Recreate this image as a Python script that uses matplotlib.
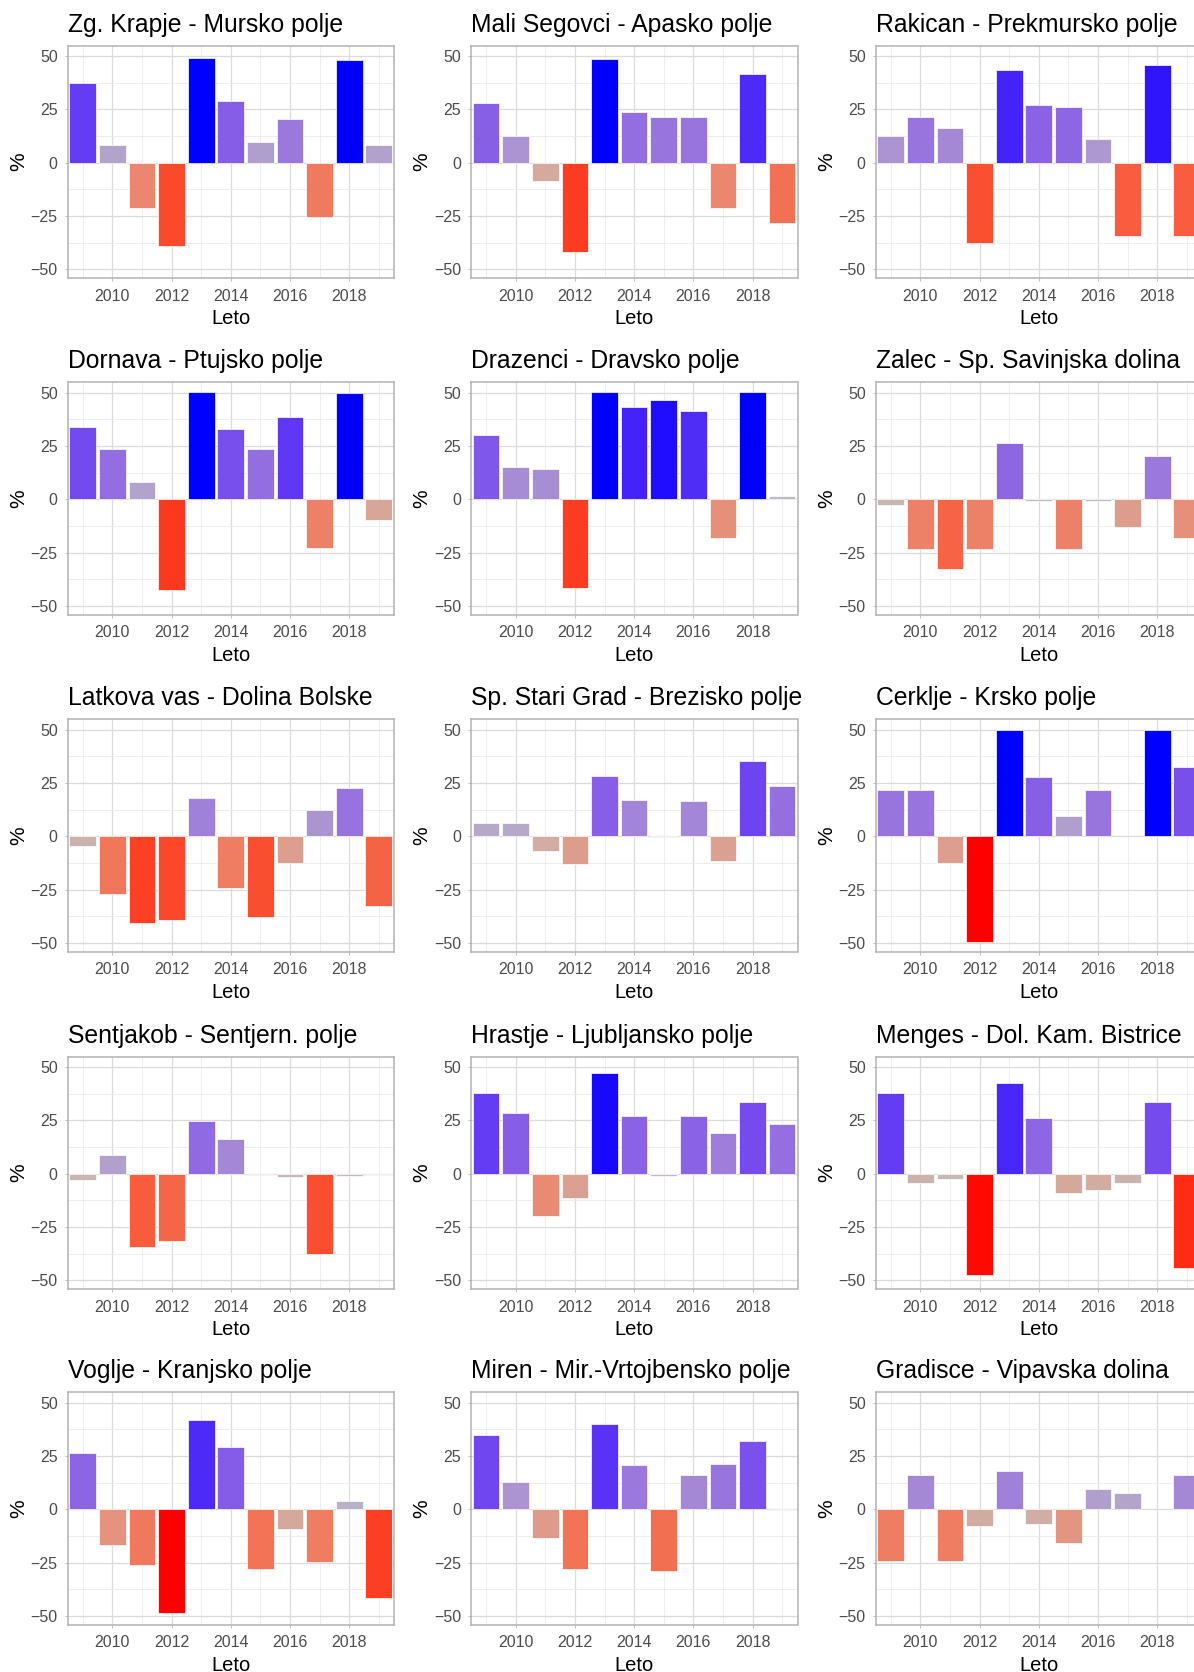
import numpy as np
import matplotlib
matplotlib.use('Agg')
import matplotlib.pyplot as plt
from matplotlib.colors import ListedColormap, Normalize

plt.rcParams['font.family'] = ['Liberation Sans', 'DejaVu Sans']

# Yearly deviation (%) per measuring station
years = np.arange(2009, 2020)
nan = np.nan

stations = [
    'Zg. Krapje - Mursko polje',
    'Mali Segovci - Apasko polje',
    'Rakican - Prekmursko polje',
    'Dornava - Ptujsko polje',
    'Drazenci - Dravsko polje',
    'Zalec - Sp. Savinjska dolina',
    'Latkova vas - Dolina Bolske',
    'Sp. Stari Grad - Brezisko polje',
    'Cerklje - Krsko polje',
    'Sentjakob - Sentjern. polje',
    'Hrastje - Ljubljansko polje',
    'Menges - Dol. Kam. Bistrice',
    'Voglje - Kranjsko polje',
    'Miren - Mir.-Vrtojbensko polje',
    'Gradisce - Vipavska dolina',
]

zg_krapje = [37.5, 8.1, -21.3, -39.2, 49.1, 28.8, 9.5, 20.3, -25.6, 48.1, 8.4]
mali_segovci = [28.1, 12.6, -8.6, -41.8, 48.4, 23.7, 21.5, 21.5, -21.2, 41.8, -28.3]
rakican = [12.5, 21.5, 16.1, -37.6, 43.3, 27.1, 26.2, 11.0, -34.2, 45.6, -34.2]
dornava = [33.9, 23.7, 8.2, -42.6, 50.2, 32.9, 23.7, 38.7, -22.9, 49.8, -9.6]
drazenci = [30.3, 15.2, 14.3, -41.8, 50.2, 43.3, 46.7, 41.4, -18.2, 50.2, 1.3]
zalec = [-2.7, -23.2, -32.5, -23.2, 26.2, -0.8, -23.2, -0.8, -12.9, 20.3, -18.2]
latkova_vas = [-4.5, -27.0, -40.9, -39.5, 18.0, -24.5, -37.9, -12.5, 12.1, 22.4, -32.9]
sp_stari_grad = [6.4, 6.4, -7.1, -13.0, 28.4, 17.2, -0.3, 16.5, -11.4, 35.4, 23.4]
cerklje = [21.8, 21.8, -12.7, -49.4, 49.8, 27.9, 9.4, 21.5, nan, 49.8, 32.4]
sentjakob = [-3.1, 8.8, -34.6, -31.8, 24.9, 16.3, -0.8, -1.6, -37.9, -1.3, -0.6]
hrastje = [37.6, 28.5, -19.9, -11.6, 47.2, 27.1, -1.3, 27.1, 19.0, 33.5, 23.4]
menges = [37.6, -4.2, -2.4, -47.5, 42.6, 25.9, -8.9, -7.5, -4.2, 33.6, -44.3]
voglje = [26.4, -16.8, -26.2, -48.7, 41.8, 29.0, -28.1, -9.3, -24.6, 4.1, -41.6]
miren = [34.9, 12.6, -13.7, -27.8, 40.0, 20.6, -28.9, 16.0, 21.4, 32.2, -0.3]
gradisce = [-24.5, 16.0, -24.5, -7.7, 18.1, -6.75, -15.9, 9.4, 7.5, nan, 16.0]

values = [zg_krapje, mali_segovci, rakican, dornava, drazenci, zalec,
          latkova_vas, sp_stari_grad, cerklje, sentjakob, hrastje, menges,
          voglje, miren, gradisce]


# red - grey - blue gradient interpolated in CIELAB
def srgb_to_lab(rgb):
    c = np.asarray(rgb, float)
    c = np.where(c <= 0.04045, c / 12.92, ((c + 0.055) / 1.055) ** 2.4)
    m = np.array([[0.4124, 0.3576, 0.1805],
                  [0.2126, 0.7152, 0.0722],
                  [0.0193, 0.1192, 0.9505]])
    xyz = m @ c / np.array([0.95047, 1.0, 1.08883])
    f = np.where(xyz > 0.008856, np.cbrt(xyz), 7.787 * xyz + 16 / 116)
    return np.array([116 * f[1] - 16, 500 * (f[0] - f[1]), 200 * (f[1] - f[2])])


def lab_to_srgb(lab):
    L, a, b = lab
    fy = (L + 16) / 116
    fx = fy + a / 500
    fz = fy - b / 200
    f = np.array([fx, fy, fz])
    xyz = np.where(f ** 3 > 0.008856, f ** 3, (f - 16 / 116) / 7.787)
    xyz = xyz * np.array([0.95047, 1.0, 1.08883])
    m = np.array([[3.2406, -1.5372, -0.4986],
                  [-0.9689, 1.8758, 0.0415],
                  [0.0557, -0.2040, 1.0570]])
    c = m @ xyz
    c = np.where(c <= 0.0031308, 12.92 * c, 1.055 * np.clip(c, 0, None) ** (1 / 2.4) - 0.055)
    return np.clip(c, 0, 1)


lab_low = srgb_to_lab([1, 0, 0])
lab_mid = srgb_to_lab([0.745, 0.745, 0.745])
lab_high = srgb_to_lab([0, 0, 1])
ramp = []
for t in np.linspace(0, 1, 256):
    if t < 0.5:
        s = t / 0.5
        lab = lab_low * (1 - s) + lab_mid * s
    else:
        s = (t - 0.5) / 0.5
        lab = lab_mid * (1 - s) + lab_high * s
    ramp.append(lab_to_srgb(lab))
cmap = ListedColormap(ramp)
norm = Normalize(vmin=-48, vmax=48, clip=True)

W, H = 1194, 1672
fig = plt.figure(figsize=(W / 100, H / 100), dpi=100)

col_left = [67.7, 471.0, 875.7]
row_top = [45.7, 382.3, 719.3, 1056.7, 1392.3]
pw, ph = 326.5, 232.5

for i, (name, vals) in enumerate(zip(stations, values)):
    r, c = divmod(i, 3)
    ax = fig.add_axes([col_left[c] / W, 1 - (row_top[r] + ph) / H, pw / W, ph / H])
    vals = np.array(vals, float)
    ok = ~np.isnan(vals)
    ax.bar(years[ok], vals[ok], width=0.9, color=cmap(norm(vals[ok])),
           edgecolor='white', linewidth=0.5, zorder=3)

    ax.set_xlim(2008.49, 2019.52)
    ax.set_ylim(-54.2, 54.85)
    ax.set_xticks([2010, 2012, 2014, 2016, 2018])
    ax.set_xticks(np.arange(2009, 2020, 2), minor=True)
    ax.set_yticks([-50, -25, 0, 25, 50])
    ax.set_yticks([-37.5, -12.5, 12.5, 37.5], minor=True)
    ax.grid(which='major', color='#DCDCDC', linewidth=0.9, zorder=0)
    ax.grid(which='minor', color='#EBEBEB', linewidth=0.6, zorder=0)
    ax.set_axisbelow(True)
    for sp in ax.spines.values():
        sp.set_color('#B3B3B3')
        sp.set_linewidth(1.1)
    ax.tick_params(which='major', length=2.2, width=0.6, color='#B3B3B3',
                   labelsize=11.5, labelcolor='#4D4D4D')
    ax.tick_params(axis='x', pad=5.5)
    ax.tick_params(axis='y', pad=5)
    ax.tick_params(which='minor', length=0)

    ax.set_title(name, loc='left', fontsize=17.8, color='black', pad=10)
    ax.set_xlabel('Leto', fontsize=14.5, color='black', labelpad=4)
    ax.set_ylabel('%', fontsize=15, color='black', labelpad=2)

fig.savefig('out.png', dpi=100, facecolor='white')
